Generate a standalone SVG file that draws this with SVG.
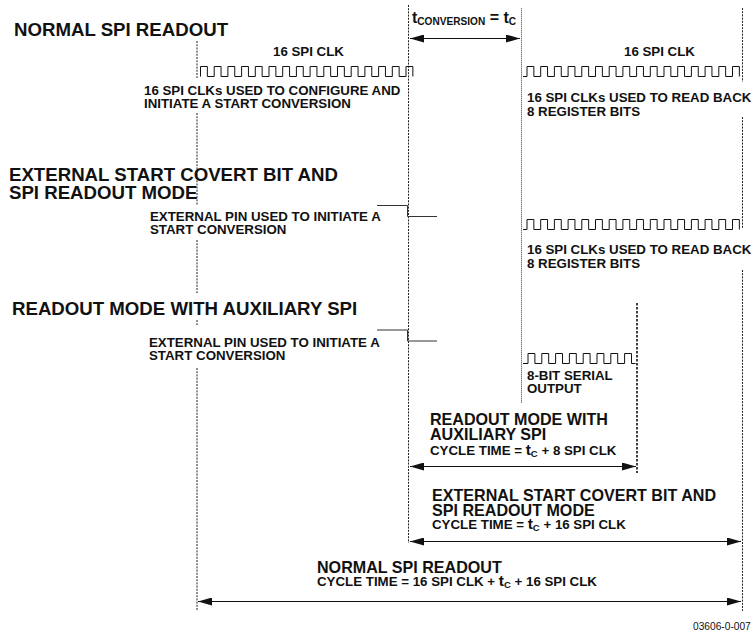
<svg xmlns="http://www.w3.org/2000/svg" width="754" height="635" viewBox="0 0 754 635">
<style>
text{font-family:"Liberation Sans",Arial,sans-serif;font-weight:bold;fill:#111}
.h{font-size:18.65px}.m{font-size:16.1px}.s{font-size:13.3px}
.id{font-size:10.2px;font-weight:normal}
.t{font-size:15.5px}.sub{font-size:9.5px}.sub2{font-size:10.1px}
.d{fill:none;stroke:#222;stroke-width:1;stroke-dasharray:2 1.2}
.g{stroke:#777;stroke-width:1;fill:none;stroke-dasharray:1.500 0.5}
.b{fill:none;stroke:#111;stroke-width:1.6;stroke-dasharray:2.500 1.500}
.w{fill:none;stroke:#111;stroke-width:1}
.p{fill:none;stroke:#333;stroke-width:1}
.a{fill:none;stroke:#111;stroke-width:1.1;marker-start:url(#l);marker-end:url(#r)}
</style>
<defs>
<marker id="r" markerUnits="userSpaceOnUse" markerWidth="14" markerHeight="8" refX="14" refY="4" orient="auto"><polygon points="0,0 14,4 0,8" fill="#111"/></marker>
<marker id="l" markerUnits="userSpaceOnUse" markerWidth="14" markerHeight="8" refX="0" refY="4" orient="auto"><polygon points="14,0 0,4 14,8" fill="#111"/></marker>
<path id="wave16" d="M0 10V0h6.85v10h6.85V0h6.85v10h6.85V0h6.85v10h6.85V0h6.85v10h6.85V0h6.85v10h6.85V0h6.85v10h6.85V0h6.85v10h6.85V0h6.85v10h6.85V0h6.85v10h6.85V0h6.85v10h6.85V0h6.85v10h6.85V0h6.85v10h6.85V0h6.85v10h6.85V0h6.85v10h6.85V0h6.85v10h6.85V0h6.85v10"/>
</defs>
<g id="connectors">
<path class="d" d="M197 41V78M197 113V205M197 240V294M197 320V325M197 368V611"/>
<path class="d" d="M408.500 5V543"/>
<path class="g" d="M521.500 8V403"/>
<path class="d" d="M742.500 8V82M742.500 117V229M742.500 270V611"/>
<path class="b" d="M637 303V473"/>
<path class="a" d="M410 38.500H520"/>
<path class="a" d="M410 466.500H636"/>
<path class="a" d="M410 541.500H741"/>
<path class="a" d="M198 601.500H741"/>
</g>
<g id="clk-normal-1"><use href="#wave16" class="w" x="200.500" y="66.500"/><text class="s" x="273" y="56">16 SPI CLK</text>
<text class="s" x="144" y="95">16 SPI CLKs USED TO CONFIGURE AND</text><text class="s" x="144" y="108">INITIATE A START CONVERSION</text></g>
<g id="clk-normal-2"><path class="w" d="M523 76.500H527"/><use href="#wave16" class="w" x="527" y="66.500"/><text class="s" x="624" y="56">16 SPI CLK</text>
<text class="s" x="527" y="102">16 SPI CLKs USED TO READ BACK</text><text class="s" x="527" y="116">8 REGISTER BITS</text></g>
<g id="title-normal"><text class="h" x="14" y="36">NORMAL SPI READOUT</text></g>
<g id="tconv"><text class="t" x="412" y="23" style="font-size:16px">t<tspan class="sub2" dy="2">CONVERSION</tspan><tspan dy="-2"> = t</tspan><tspan class="sub2" dy="2">C</tspan></text></g>
<g id="title-external"><text class="h" x="9" y="181">EXTERNAL START COVERT BIT AND</text><text class="h" x="9" y="199">SPI READOUT MODE</text></g>
<g id="pin-external"><path class="p" d="M377 205.500H407.500V216.500H437"/><text class="s" x="150" y="221">EXTERNAL PIN USED TO INITIATE A</text><text class="s" x="150" y="234">START CONVERSION</text></g>
<g id="clk-external"><path class="w" d="M523 229.500H527"/><use href="#wave16" class="w" x="527" y="219.500"/><text class="s" x="527" y="254">16 SPI CLKs USED TO READ BACK</text><text class="s" x="527" y="268">8 REGISTER BITS</text></g>
<g id="title-aux"><text class="h" x="12" y="315">READOUT MODE WITH AUXILIARY SPI</text></g>
<g id="pin-aux"><path class="p" d="M377 330H407.500V341H437"/><text class="s" x="149" y="347">EXTERNAL PIN USED TO INITIATE A</text><text class="s" x="149" y="360">START CONVERSION</text></g>
<g id="clk-aux"><path class="w" d="M523 363.500H528V353.500h6.900v10h6.900V353.500h6.900v10h6.900V353.500h6.900v10h6.900V353.500h6.900v10h6.900V353.500h6.900v10h6.900V353.500h6.900v10h6.900V353.500h6.900v10h6.900V353.500h6.900v10h4"/><text class="s" x="527" y="380">8-BIT SERIAL</text><text class="s" x="527" y="393">OUTPUT</text></g>
<g id="label-aux"><text class="m" x="430" y="425">READOUT MODE WITH</text><text class="m" x="430" y="440">AUXILIARY SPI</text><text class="s" x="430" y="455">CYCLE TIME = <tspan class="t">t</tspan><tspan class="sub" dy="2">C</tspan><tspan dy="-2"> + 8 SPI CLK</tspan></text></g>
<g id="label-external"><text class="m" x="432" y="501">EXTERNAL START COVERT BIT AND</text><text class="m" x="432" y="515.500">SPI READOUT MODE</text><text class="s" x="432" y="529">CYCLE TIME = <tspan class="t">t</tspan><tspan class="sub" dy="2">C</tspan><tspan dy="-2"> + 16 SPI CLK</tspan></text></g>
<g id="label-normal"><text class="m" x="317" y="573">NORMAL SPI READOUT</text><text class="s" x="317" y="586">CYCLE TIME = 16 SPI CLK + <tspan class="t">t</tspan><tspan class="sub" dy="2">C</tspan><tspan dy="-2"> + 16 SPI CLK</tspan></text></g>
<text class="id" x="693" y="630">03606-0-007</text>
</svg>
